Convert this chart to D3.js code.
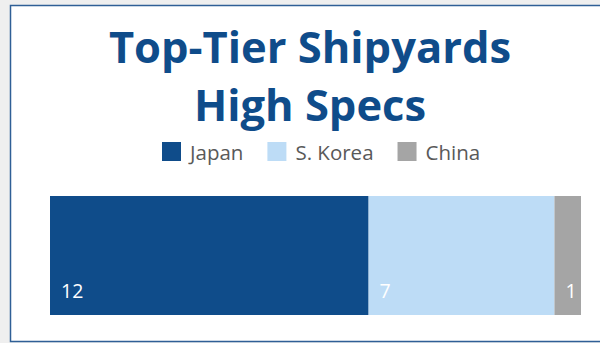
<!DOCTYPE html>
<html>
<head>
<meta charset="utf-8">
<script src="https://cdn.jsdelivr.net/npm/d3@7"></script>
<style>
  html, body { margin: 0; padding: 0; background: #efefef; }
  svg { display: block; }
</style>
</head>
<body>
<svg id="chart"></svg>
<script>
// data
const countries = ['Japan', 'S. Korea', 'China'];
const shipyards = [12, 7, 1];
const colors = ['#0F4C8A', '#BDDCF6', '#A5A5A5'];
const titleLines = ['Top-Tier Shipyards', 'High Specs'];

const width = 600;
const height = 343;

const svg = d3.select('#chart')
  .attr('width', width)
  .attr('height', height);

svg.append('rect')
  .attr('width', width)
  .attr('height', height)
  .attr('fill', '#efefef');

// chart area with thin blue border
svg.append('rect')
  .attr('x', 10.5)
  .attr('y', 5.5)
  .attr('width', 620)
  .attr('height', 336)
  .attr('fill', '#fff')
  .attr('stroke', '#2F5F96')
  .attr('stroke-width', 1.5);

const titleX = 310;
svg.append('g')
  .selectAll('text')
  .data(titleLines)
  .enter()
  .append('text')
  .attr('x', titleX)
  .attr('y', (d, i) => 63 + i * 58)
  .attr('text-anchor', 'middle')
  .style('font-family', '"Open Sans", sans-serif')
  .style('font-weight', 700)
  .style('font-size', '43.5px')
  .style('fill', '#0F4C8A')
  .text(d => d);

// legend
const legend = svg.append('g');
let lx = 162;
countries.forEach((c, i) => {
  legend.append('rect')
    .attr('x', lx)
    .attr('y', 142)
    .attr('width', 19)
    .attr('height', 19)
    .attr('fill', colors[i]);
  const t = legend.append('text')
    .attr('x', lx + 28)
    .attr('y', 160)
    .style('font-family', '"Open Sans", sans-serif')
    .style('font-size', '20.5px')
    .style('fill', '#595959')
    .text(c);
  lx += 28 + t.node().getComputedTextLength() + 24;
});

// stacked bar
const total = d3.sum(shipyards);
const x = d3.scaleLinear()
  .domain([0, total])
  .range([50, 581]);

const stacked = [];
let acc = 0;
shipyards.forEach((v, i) => {
  stacked.push({ name: countries[i], value: v, x0: acc, x1: acc + v, color: colors[i] });
  acc += v;
});

const barTop = 196;
const barHeight = 119;

const seg = svg.append('g')
  .selectAll('g')
  .data(stacked)
  .enter()
  .append('g');

seg.append('rect')
  .attr('x', d => x(d.x0))
  .attr('y', barTop)
  .attr('width', d => x(d.x1) - x(d.x0))
  .attr('height', barHeight)
  .attr('fill', d => d.color);

seg.append('text')
  .attr('x', d => x(d.x0) + 11)
  .attr('y', 298)
  .style('font-family', '"Open Sans", sans-serif')
  .style('font-size', '19.5px')
  .style('fill', '#fff')
  .text(d => d.value);
</script>
</body>
</html>
